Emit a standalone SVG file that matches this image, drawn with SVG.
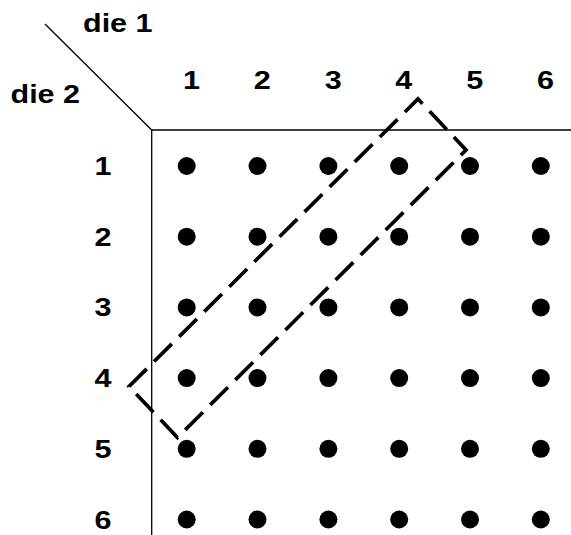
<svg xmlns="http://www.w3.org/2000/svg" width="571" height="535" viewBox="0 0 571 535">
  <style>
    .lbl { font-family: "Liberation Sans", Arial, sans-serif; font-weight: bold; font-size: 25px; fill: #000; }
    .num { text-anchor: middle; }
    .axis { stroke: #000; stroke-width: 1.3; fill: none; }
    .dot { fill: #000; }
    .band { fill: none; stroke: #000; stroke-width: 3.7; stroke-dasharray: 25 10.38; stroke-linejoin: miter; }
  </style>

  <!-- corner header: diagonal splitter and axis titles -->
  <g id="header">
    <line class="axis" x1="45" y1="24" x2="151.7" y2="130"/>
    <text class="lbl" x="83" y="32.3" textLength="69.5" lengthAdjust="spacingAndGlyphs">die 1</text>
    <text class="lbl" x="10.5" y="102.7" textLength="69.5" lengthAdjust="spacingAndGlyphs">die 2</text>
  </g>

  <!-- grid axes -->
  <g id="axes">
    <line class="axis" x1="151.7" y1="130" x2="571" y2="130"/>
    <line class="axis" x1="151.7" y1="130" x2="151.7" y2="535"/>
  </g>

  <!-- die 1 faces (columns) -->
  <g id="die1-faces">
    <text class="lbl num" x="191.5" y="89" textLength="17" lengthAdjust="spacingAndGlyphs">1</text>
    <text class="lbl num" x="262.2" y="89" textLength="17" lengthAdjust="spacingAndGlyphs">2</text>
    <text class="lbl num" x="333.2" y="89" textLength="17" lengthAdjust="spacingAndGlyphs">3</text>
    <text class="lbl num" x="403.8" y="89" textLength="17" lengthAdjust="spacingAndGlyphs">4</text>
    <text class="lbl num" x="474.7" y="89" textLength="17" lengthAdjust="spacingAndGlyphs">5</text>
    <text class="lbl num" x="545.5" y="89" textLength="17" lengthAdjust="spacingAndGlyphs">6</text>
  </g>

  <!-- die 2 faces (rows) -->
  <g id="die2-faces">
    <text class="lbl num" x="103" y="175" textLength="17" lengthAdjust="spacingAndGlyphs">1</text>
    <text class="lbl num" x="103" y="245.7" textLength="17" lengthAdjust="spacingAndGlyphs">2</text>
    <text class="lbl num" x="103" y="316.4" textLength="17" lengthAdjust="spacingAndGlyphs">3</text>
    <text class="lbl num" x="103" y="387.1" textLength="17" lengthAdjust="spacingAndGlyphs">4</text>
    <text class="lbl num" x="103" y="457.8" textLength="17" lengthAdjust="spacingAndGlyphs">5</text>
    <text class="lbl num" x="103" y="528.5" textLength="17" lengthAdjust="spacingAndGlyphs">6</text>
  </g>

  <!-- 36 outcomes -->
  <g id="outcomes">
    <g id="row1">
      <circle class="dot" cx="186.7" cy="166" r="9"/><circle class="dot" cx="257.5" cy="166" r="9"/><circle class="dot" cx="328.4" cy="166" r="9"/>
      <circle class="dot" cx="399.2" cy="166" r="9"/><circle class="dot" cx="470" cy="166" r="9"/><circle class="dot" cx="540.8" cy="166" r="9"/>
    </g>
    <g id="row2">
      <circle class="dot" cx="186.7" cy="236.7" r="9"/><circle class="dot" cx="257.5" cy="236.7" r="9"/><circle class="dot" cx="328.4" cy="236.7" r="9"/>
      <circle class="dot" cx="399.2" cy="236.7" r="9"/><circle class="dot" cx="470" cy="236.7" r="9"/><circle class="dot" cx="540.8" cy="236.7" r="9"/>
    </g>
    <g id="row3">
      <circle class="dot" cx="186.7" cy="307.4" r="9"/><circle class="dot" cx="257.5" cy="307.4" r="9"/><circle class="dot" cx="328.4" cy="307.4" r="9"/>
      <circle class="dot" cx="399.2" cy="307.4" r="9"/><circle class="dot" cx="470" cy="307.4" r="9"/><circle class="dot" cx="540.8" cy="307.4" r="9"/>
    </g>
    <g id="row4">
      <circle class="dot" cx="186.7" cy="378.1" r="9"/><circle class="dot" cx="257.5" cy="378.1" r="9"/><circle class="dot" cx="328.4" cy="378.1" r="9"/>
      <circle class="dot" cx="399.2" cy="378.1" r="9"/><circle class="dot" cx="470" cy="378.1" r="9"/><circle class="dot" cx="540.8" cy="378.1" r="9"/>
    </g>
    <g id="row5">
      <circle class="dot" cx="186.7" cy="448.8" r="9"/><circle class="dot" cx="257.5" cy="448.8" r="9"/><circle class="dot" cx="328.4" cy="448.8" r="9"/>
      <circle class="dot" cx="399.2" cy="448.8" r="9"/><circle class="dot" cx="470" cy="448.8" r="9"/><circle class="dot" cx="540.8" cy="448.8" r="9"/>
    </g>
    <g id="row6">
      <circle class="dot" cx="186.7" cy="519.5" r="9"/><circle class="dot" cx="257.5" cy="519.5" r="9"/><circle class="dot" cx="328.4" cy="519.5" r="9"/>
      <circle class="dot" cx="399.2" cy="519.5" r="9"/><circle class="dot" cx="470" cy="519.5" r="9"/><circle class="dot" cx="540.8" cy="519.5" r="9"/>
    </g>
  </g>

  <!-- dashed band around the anti-diagonal (sum = 5) -->
  <g id="sum5-band">
    <path class="band" d="M129 386.5 L418 99 L466 150 L177.5 437.5 Z"/>
  </g>
</svg>
